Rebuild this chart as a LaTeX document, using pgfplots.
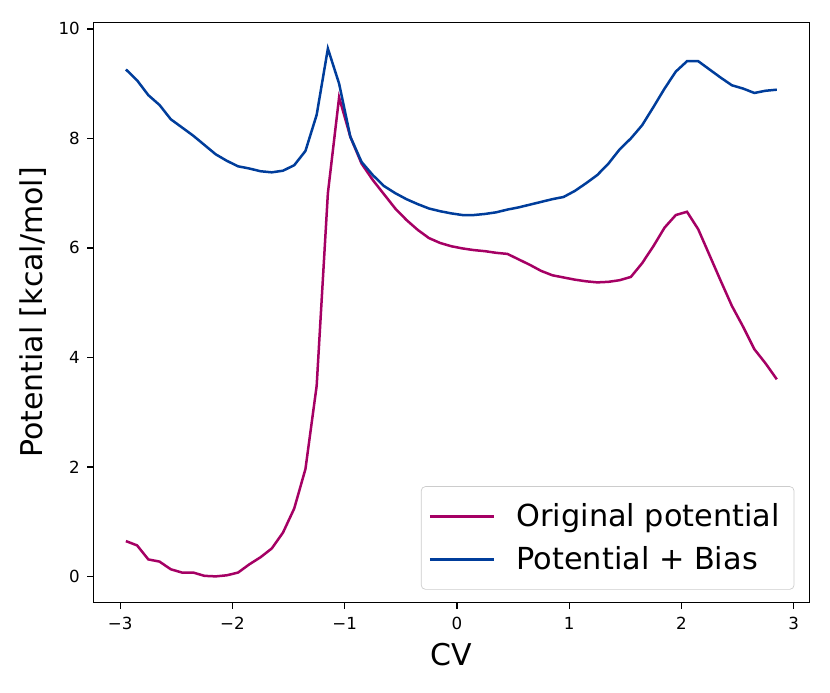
\documentclass[border=0pt]{standalone}
\usepackage{fontspec}
\setmainfont{DejaVu Sans}
\usepackage{pgfplots}
\usepackage{pgfplotstable}
\pgfplotsset{compat=1.18}
\definecolor{origc}{RGB}{165,0,100}
\definecolor{biasc}{RGB}{0,61,155}

\pgfplotstableread{
x y
-2.95 0.645
-2.85 0.566
-2.75 0.31
-2.65 0.27
-2.55 0.13
-2.45 0.07
-2.35 0.07
-2.25 0.01
-2.15 0.00
-2.05 0.02
-1.95 0.07
-1.85 0.22
-1.75 0.35
-1.65 0.51
-1.55 0.80
-1.45 1.24
-1.35 1.96
-1.25 3.48
-1.15 7.00
-1.05 8.75
-0.95 8.03
-0.85 7.54
-0.75 7.24
-0.65 6.98
-0.55 6.72
-0.45 6.51
-0.35 6.33
-0.25 6.18
-0.15 6.09
-0.05 6.03
0.05 5.99
0.15 5.96
0.25 5.94
0.35 5.91
0.45 5.89
0.55 5.79
0.65 5.69
0.75 5.58
0.85 5.50
0.95 5.46
1.05 5.42
1.15 5.39
1.25 5.37
1.35 5.38
1.45 5.41
1.55 5.47
1.65 5.72
1.75 6.03
1.85 6.37
1.95 6.60
2.05 6.66
2.15 6.34
2.25 5.87
2.35 5.40
2.45 4.94
2.55 4.56
2.65 4.15
2.75 3.89
2.85 3.60
}\origtable

\pgfplotstableread{
x y
-2.95 9.26
-2.85 9.06
-2.75 8.79
-2.65 8.61
-2.55 8.35
-2.45 8.20
-2.35 8.05
-2.25 7.88
-2.15 7.71
-2.05 7.59
-1.95 7.49
-1.85 7.45
-1.75 7.40
-1.65 7.38
-1.55 7.41
-1.45 7.51
-1.35 7.77
-1.25 8.43
-1.15 9.64
-1.05 9.00
-0.95 8.03
-0.85 7.57
-0.75 7.33
-0.65 7.13
-0.55 7.00
-0.45 6.89
-0.35 6.80
-0.25 6.72
-0.15 6.67
-0.05 6.63
0.05 6.60
0.15 6.60
0.25 6.62
0.35 6.65
0.45 6.70
0.55 6.74
0.65 6.79
0.75 6.84
0.85 6.89
0.95 6.93
1.05 7.04
1.15 7.18
1.25 7.33
1.35 7.54
1.45 7.80
1.55 8.00
1.65 8.24
1.75 8.57
1.85 8.91
1.95 9.22
2.05 9.41
2.15 9.41
2.25 9.26
2.35 9.11
2.45 8.97
2.55 8.91
2.65 8.83
2.75 8.87
2.85 8.89
}\biastable

\begin{document}
\begin{tikzpicture}
\useasboundingbox (0pt,0pt) rectangle (498pt,415.2pt);
\begin{axis}[
  at={(56pt,53.6pt)}, anchor=south west,
  scale only axis, width=429.6pt, height=348.2pt,
  xmin=-3.24, xmax=3.14, ymin=-0.48, ymax=10.12,
  axis line style={line width=0.8pt},
  xtick={-3,-2,-1,0,1,2,3},
  xticklabels={−3,−2,−1,0,1,2,3},
  ytick={0,2,4,6,8,10},
  yticklabels={0,2,4,6,8,10},
  xtick pos=lower, ytick pos=left,
  tick align=outside,
  major tick length=3.6pt,
  tick style={line width=0.8pt, black},
  tick label style={font=\fontsize{10}{12}\selectfont},
  xticklabel style={yshift=-1.5pt},
  yticklabel style={xshift=-1pt},
  xlabel={CV},
  ylabel={Potential [kcal/mol]},
  xlabel style={font=\fontsize{18}{21}\selectfont, at={(axis description cs:0.5,0)}, anchor=center, yshift=-30.9pt},
  ylabel style={font=\fontsize{18}{21}\selectfont, at={(axis description cs:0,0.5)}, anchor=center, yshift=36pt},
  legend style={
    at={(rel axis cs:1,0)}, anchor=south east, xshift=-9pt, yshift=7.8pt,
    draw=black!20, rounded corners=2.5pt,
    font=\fontsize{18.2}{21}\selectfont,
    row sep=6.4pt, column sep=8.8pt, inner xsep=4.5pt, inner ysep=8.3pt,
    nodes={inner xsep=4pt},
  },
  legend cell align=left,
  legend image code/.code={\draw[#1, line width=1.5pt] (0pt,0pt) -- (38.4pt,0pt);},
]
\addplot[origc, line width=1.5pt] table[x=x,y=y] {\origtable};
\addlegendentry{Original potential}
\addplot[biasc, line width=1.5pt] table[x=x,y=y] {\biastable};
\addlegendentry{Potential + Bias}
\end{axis}
\end{tikzpicture}
\end{document}
